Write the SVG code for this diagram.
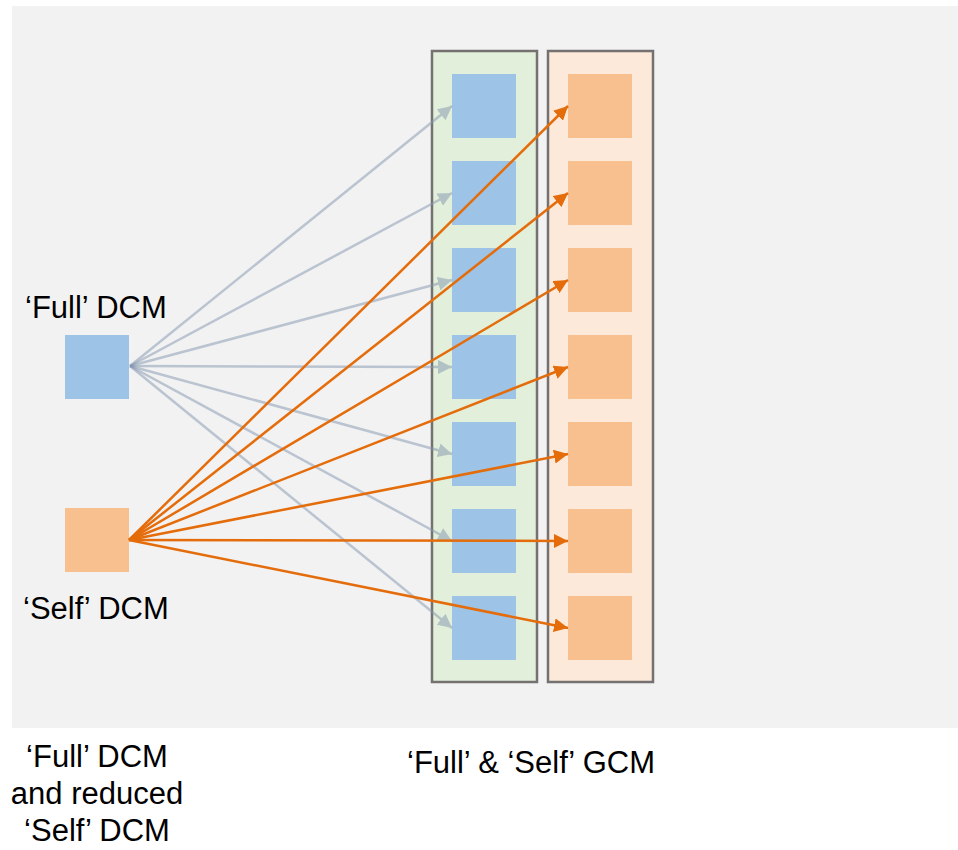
<svg xmlns="http://www.w3.org/2000/svg" width="958" height="850" viewBox="0 0 958 850">
<style>
.lbl{font-family:"Liberation Sans",Arial,sans-serif;font-size:31px;fill:#000}
.col{stroke:#767171;stroke-width:2.5}
.bb{fill:#9dc3e6}
.ob{fill:#f9c08f}
.bl{stroke:#8497b0;stroke-width:2.5;fill:none;opacity:0.5}
.ol{stroke:#e46c0a;stroke-width:2.5;fill:none}
</style>
<defs>
<marker id="ab" markerUnits="userSpaceOnUse" markerWidth="16" markerHeight="14" refX="14" refY="7" orient="auto"><path d="M0,0 L14,7 L0,14 Z" fill="#8497b0"/></marker>
<marker id="ao" markerUnits="userSpaceOnUse" markerWidth="16" markerHeight="14" refX="14" refY="7" orient="auto"><path d="M0,0 L14,7 L0,14 Z" fill="#e46c0a"/></marker>
</defs>
<rect x="12" y="6" width="946" height="722" fill="#f2f2f2"/>
<g id="gcm-full-column"><rect class="col" x="432" y="51" width="105" height="631" fill="#e2efda"/></g>
<g id="gcm-self-column"><rect class="col" x="548" y="51" width="105" height="631" fill="#fde9d9"/></g>
<g id="full-dcm"><rect class="bb" x="65" y="335" width="64" height="64"/><text class="lbl" x="25" y="318">‘Full’ DCM</text></g>
<g id="self-dcm"><rect class="ob" x="65" y="508" width="64" height="64"/><text class="lbl" x="23" y="619">‘Self’ DCM</text></g>
<g id="full-gcm-boxes">
<rect class="bb" x="452" y="74" width="64" height="64"/>
<rect class="bb" x="452" y="161" width="64" height="64"/>
<rect class="bb" x="452" y="248" width="64" height="64"/>
<rect class="bb" x="452" y="335" width="64" height="64"/>
<rect class="bb" x="452" y="422" width="64" height="64"/>
<rect class="bb" x="452" y="509" width="64" height="64"/>
<rect class="bb" x="452" y="596" width="64" height="64"/>
</g>
<g id="self-gcm-boxes">
<rect class="ob" x="568" y="74" width="64" height="64"/>
<rect class="ob" x="568" y="161" width="64" height="64"/>
<rect class="ob" x="568" y="248" width="64" height="64"/>
<rect class="ob" x="568" y="335" width="64" height="64"/>
<rect class="ob" x="568" y="422" width="64" height="64"/>
<rect class="ob" x="568" y="509" width="64" height="64"/>
<rect class="ob" x="568" y="596" width="64" height="64"/>
</g>
<g id="connectors">
<path class="bl" marker-end="url(#ab)" d="M130,366 L452,106"/>
<path class="bl" marker-end="url(#ab)" d="M130,366 L452,193"/>
<path class="bl" marker-end="url(#ab)" d="M130,366 L452,280"/>
<path class="bl" marker-end="url(#ab)" d="M130,366 L452,367"/>
<path class="bl" marker-end="url(#ab)" d="M130,366 L452,454"/>
<path class="bl" marker-end="url(#ab)" d="M130,366 L452,541"/>
<path class="bl" marker-end="url(#ab)" d="M130,366 L452,628"/>
<path class="ol" marker-end="url(#ao)" d="M129,540 L568,106"/>
<path class="ol" marker-end="url(#ao)" d="M129,540 L568,193"/>
<path class="ol" marker-end="url(#ao)" d="M129,540 L568,280"/>
<path class="ol" marker-end="url(#ao)" d="M129,540 L568,367"/>
<path class="ol" marker-end="url(#ao)" d="M129,540 L568,454"/>
<path class="ol" marker-end="url(#ao)" d="M129,540 L568,541"/>
<path class="ol" marker-end="url(#ao)" d="M129,540 L568,628"/>
</g>
<g id="bottom-labels">
<text class="lbl" x="97" y="767" text-anchor="middle">‘Full’ DCM</text>
<text class="lbl" x="97" y="804" text-anchor="middle">and reduced</text>
<text class="lbl" x="97" y="841" text-anchor="middle">‘Self’ DCM</text>
<text class="lbl" x="407" y="773">‘Full’ &amp; ‘Self’ GCM</text>
</g>
</svg>
